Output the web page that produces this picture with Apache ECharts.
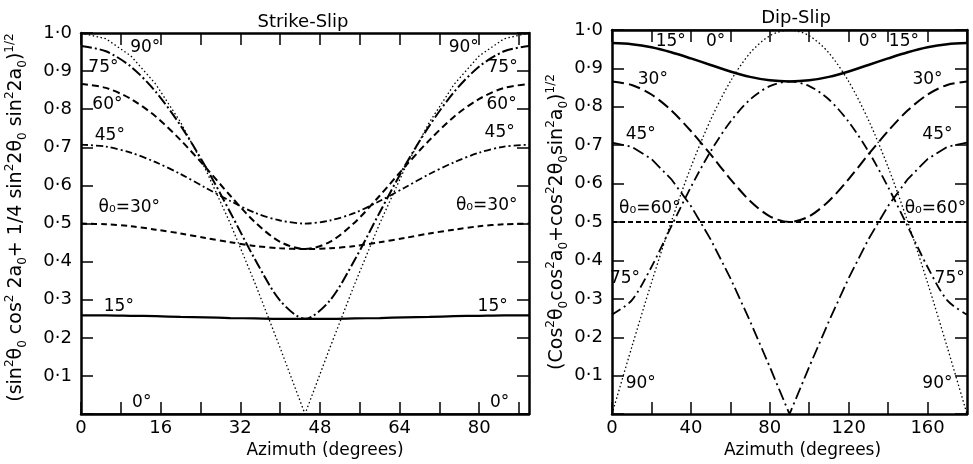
<!DOCTYPE html>
<html><head><meta charset="utf-8">
<script src="https://cdn.jsdelivr.net/npm/echarts@6/dist/echarts.min.js"></script>
<style>html,body{margin:0;padding:0;background:#fff}#c{width:973px;height:464px}</style>
</head><body><div id="c"></div>
<script>
// Strike-slip panel: azimuth 0..90 (deg), values per dip angle theta0
const leftAz = [0,5,10,15,20,25,30,35,40,45,50,55,60,65,70,75,80,85,90];
const ss90 = [1,0.985,0.940,0.866,0.766,0.643,0.5,0.342,0.174,0,0.174,0.342,0.5,0.643,0.766,0.866,0.940,0.985,1];
const ss75 = [0.966,0.952,0.912,0.846,0.757,0.650,0.529,0.405,0.298,0.25,0.298,0.405,0.529,0.650,0.757,0.846,0.912,0.952,0.966];
const ss60 = [0.866,0.856,0.827,0.781,0.719,0.648,0.573,0.503,0.452,0.433,0.452,0.503,0.573,0.648,0.719,0.781,0.827,0.856,0.866];
const ss45 = [0.707,0.702,0.686,0.661,0.630,0.594,0.559,0.528,0.508,0.5,0.508,0.528,0.559,0.594,0.630,0.661,0.686,0.702,0.707];
const ss30 = [0.5,0.498,0.493,0.484,0.474,0.462,0.451,0.441,0.435,0.433,0.435,0.441,0.451,0.462,0.474,0.484,0.493,0.498,0.5];
const ss15 = [0.259,0.259,0.258,0.257,0.255,0.254,0.252,0.251,0.250,0.25,0.250,0.251,0.252,0.254,0.255,0.257,0.258,0.259,0.259];
const ss0  = [0,0,0,0,0,0,0,0,0,0,0,0,0,0,0,0,0,0,0];

// Dip-slip panel: azimuth 0..180 (deg)
const rightAz = [0,10,20,30,40,50,60,70,80,90,100,110,120,130,140,150,160,170,180];
const ds0  = [1,1,1,1,1,1,1,1,1,1,1,1,1,1,1,1,1,1,1];
const ds15 = [0.966,0.963,0.955,0.942,0.926,0.909,0.892,0.878,0.869,0.866,0.869,0.878,0.892,0.909,0.926,0.942,0.955,0.963,0.966];
const ds30 = [0.866,0.857,0.832,0.791,0.737,0.676,0.612,0.555,0.515,0.5,0.515,0.555,0.612,0.676,0.737,0.791,0.832,0.857,0.866];
const ds45 = [0.707,0.696,0.664,0.612,0.542,0.455,0.354,0.242,0.123,0,0.123,0.242,0.354,0.455,0.542,0.612,0.664,0.696,0.707];
const ds60 = [0.5,0.5,0.5,0.5,0.5,0.5,0.5,0.5,0.5,0.5,0.5,0.5,0.5,0.5,0.5,0.5,0.5,0.5,0.5];
const ds75 = [0.259,0.296,0.383,0.488,0.591,0.684,0.761,0.819,0.854,0.866,0.854,0.819,0.761,0.684,0.591,0.488,0.383,0.296,0.259];
const ds90 = [0,0.174,0.342,0.5,0.643,0.766,0.866,0.940,0.985,1,0.985,0.940,0.866,0.766,0.643,0.5,0.342,0.174,0];

// curve labels [azimuth, value, text]
const leftLabels = [
  [12.9,0.962,'90°'],[4.5,0.910,'75°'],[5.3,0.812,'60°'],[5.8,0.731,'45°'],
  [9.7,0.542,'θ₀=30°'],[7.6,0.282,'15°'],[12.2,0.030,'0°'],
  [76.9,0.962,'90°'],[84.7,0.910,'75°'],[84.5,0.812,'60°'],[84.1,0.740,'45°'],
  [81.5,0.547,'θ₀=30°'],[82.7,0.282,'15°'],[84.1,0.030,'0°']
];
const rightLabels = [
  [29.8,0.970,'15°'],[52.5,0.970,'0°'],[130,0.970,'0°'],[148,0.970,'15°'],
  [20.7,0.871,'30°'],[160,0.871,'30°'],[14.6,0.729,'45°'],[165,0.729,'45°'],
  [19.2,0.534,'θ₀=60°'],[164,0.534,'θ₀=60°'],[6.6,0.352,'75°'],[171.2,0.352,'75°'],
  [14.6,0.079,'90°'],[165,0.079,'90°']
];

const FONT = 'DejaVu Sans';
const zip = (xs, ys) => xs.map((x, i) => [x, ys[i]]);
const fmtY = v => (Math.abs(v) < 1e-9) ? '' : v.toFixed(1).replace('.', '·');

function line(xi, xs, ys, type, width, smooth) {
  return {
    type: 'line', xAxisIndex: xi, yAxisIndex: xi, data: zip(xs, ys),
    symbol: 'none', showSymbol: false, smooth: smooth ? 0.3 : false,
    lineStyle: { color: '#000', width: width, type: type, cap: 'butt', opacity: 1 },
    silent: true, z: 3
  };
}
function labels(xi, arr) {
  return {
    type: 'scatter', xAxisIndex: xi, yAxisIndex: xi, symbolSize: 0, silent: true, z: 5,
    itemStyle: { opacity: 1, color: '#000' },
    data: arr.map(d => ({ value: [d[0], d[1]], name: d[2] })),
    label: { show: true, position: 'inside', formatter: '{b}', color: '#000', opacity: 1,
             fontSize: 17, fontFamily: FONT }
  };
}
const axisLine = { show: true, onZero: false, lineStyle: { color: '#000', width: 2.5 } };
const tick = { show: true, inside: true, length: 12, lineStyle: { color: '#000', width: 1.5 } };

function xAx(grid, max, interval, labelEvery, pos, nameShift) {
  const o = {
    type: 'value', gridIndex: grid, min: 0, max: max, interval: interval, position: pos,
    axisLine: axisLine, axisTick: tick, splitLine: { show: false },
    axisLabel: { show: pos === 'bottom', margin: 5, fontSize: 18, fontFamily: FONT, color: '#000',
      showMaxLabel: false, formatter: v => (v % labelEvery === 0 ? String(v) : '') }
  };
  if (pos === 'bottom') {
    o.name = 'Azimuth (degrees)'; o.nameLocation = 'middle'; o.nameGap = 25;
    o.nameTextStyle = { fontSize: 17, fontFamily: FONT, color: '#000', padding: [0, 0, 0, nameShift] };
  }
  return o;
}
function rich(fs) {
  return {
    p: { fontSize: Math.round(fs * 0.62), fontFamily: FONT, color: '#000', verticalAlign: 'top', lineHeight: fs + 6 },
    b: { fontSize: Math.round(fs * 0.62), fontFamily: FONT, color: '#000', verticalAlign: 'bottom', lineHeight: fs + 6 }
  };
}
function yAx(grid, pos, name, gap, pad, fs) {
  const o = {
    type: 'value', gridIndex: grid, min: 0, max: 1, interval: 0.1, position: pos,
    axisLine: axisLine, axisTick: tick, splitLine: { show: false },
    axisLabel: { show: pos === 'left', margin: 9, fontSize: 18, fontFamily: FONT, color: '#000',
      formatter: fmtY }
  };
  if (name) {
    o.name = name; o.nameLocation = 'middle'; o.nameGap = gap; o.nameRotate = 90;
    o.nameTextStyle = { fontSize: fs, fontFamily: FONT, color: '#000', lineHeight: fs + 6,
                        rich: rich(fs), padding: pad };
  }
  return o;
}

const nameL = '(sin{p|2}θ{b|0} cos{p|2} 2a{b|0}+ 1/4 sin{p|2}2θ{b|0} sin{p|2}2a{b|0}){p|1/2}';
const nameR = '(Cos{p|2}θ{b|0}cos{p|2}a{b|0}+cos{p|2}2θ{b|0}sin{p|2}a{b|0}){p|1/2}';

const option = {
  animation: false,
  backgroundColor: '#fff',
  textStyle: { fontFamily: FONT },
  title: [
    { text: 'Strike-Slip', left: 298, top: 8, textAlign: 'center',
      textStyle: { fontSize: 18, fontWeight: 'normal', fontFamily: FONT, color: '#000' } },
    { text: 'Dip-Slip', left: 791, top: 4, textAlign: 'center',
      textStyle: { fontSize: 18, fontWeight: 'normal', fontFamily: FONT, color: '#000' } }
  ],
  grid: [
    { left: 81, top: 33, width: 448, height: 385 },
    { left: 612, top: 30, width: 355, height: 386 }
  ],
  xAxis: [
    xAx(0, 90, 8, 16, 'bottom', 40), xAx(0, 90, 8, 16, 'top', 0),
    xAx(1, 180, 20, 40, 'bottom', 26), xAx(1, 180, 20, 40, 'top', 0)
  ],
  yAxis: [
    yAx(0, 'left', nameL, 52, [0, 0, 0, 12], 19), yAx(0, 'right', null),
    yAx(1, 'left', nameR, 42, [0, 0, 0, 0], 19), yAx(1, 'right', null)
  ],
  series: [
    line(0, leftAz, ss90, [1.5, 2.5], 1.3, false),
    line(0, leftAz, ss75, [11, 3, 2, 3], 2, true),
    line(0, leftAz, ss60, [7, 4], 2, true),
    line(0, leftAz, ss45, [7, 3, 2, 3], 1.8, true),
    line(0, leftAz, ss30, [6, 4], 2, true),
    line(0, leftAz, ss15, 'solid', 2.2, true),
    line(0, leftAz, ss0, 'solid', 1.5, false),
    labels(0, leftLabels),
    line(2, rightAz, ds0, 'solid', 1.5, false),
    line(2, rightAz, ds15, 'solid', 2.5, true),
    line(2, rightAz, ds30, [12, 5], 2, true),
    line(2, rightAz, ds45, [12, 4, 2, 4], 1.8, false),
    line(2, rightAz, ds60, [5, 3], 2, false),
    line(2, rightAz, ds75, [10, 4, 2, 4], 1.8, true),
    line(2, rightAz, ds90, [1.5, 2.5], 1.3, true),
    labels(2, rightLabels)
  ]
};
const chart = echarts.init(document.getElementById('c'));
chart.setOption(option);
</script>
</body></html>
